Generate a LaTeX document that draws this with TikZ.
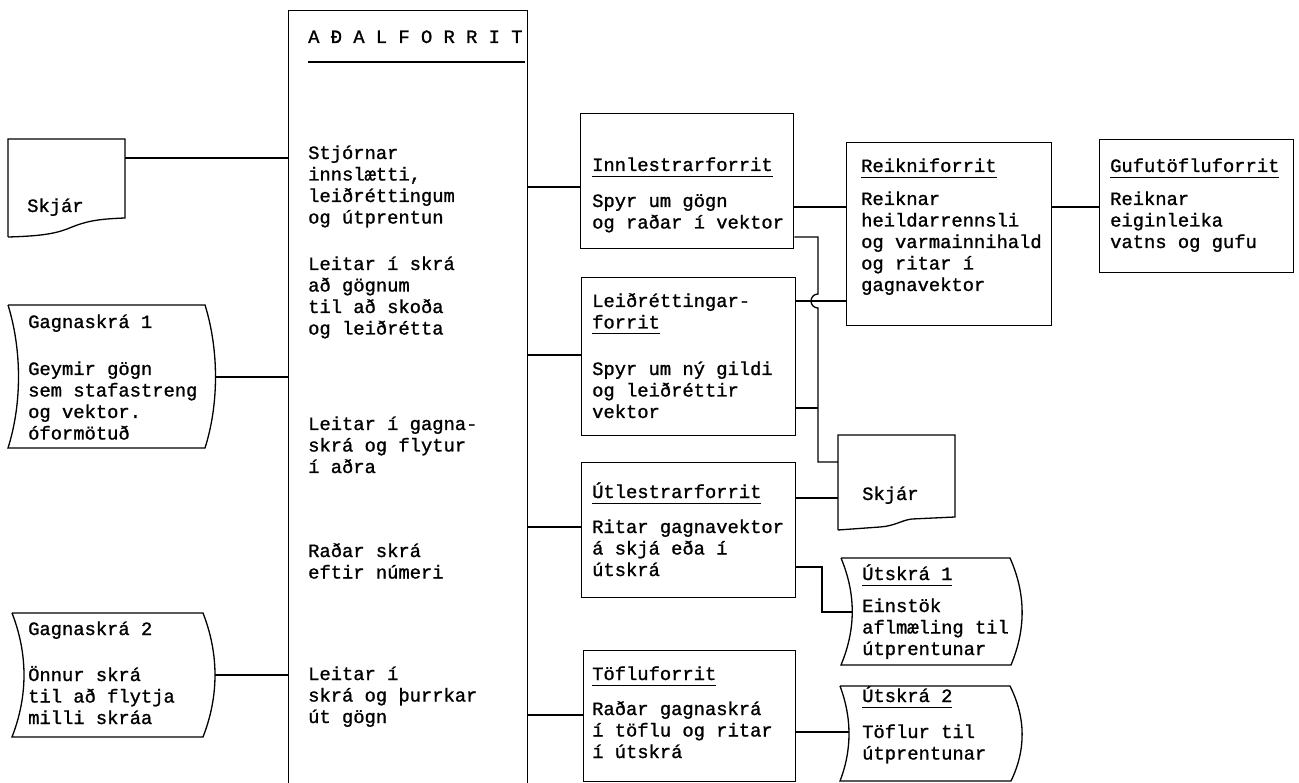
\documentclass[tikz,border=0pt]{standalone}
\usepackage{fontspec}
\setmainfont{Liberation Mono}[FakeBold=1.2]
\usetikzlibrary{calc}
\newcommand\blk[1]{\vtop{\halign{##\hfil\cr#1\crcr}}}
\newcommand\ulx[1]{\setbox0\hbox{#1}\rlap{\rule[-6pt]{\wd0}{1.1pt}}\box0}
\tikzset{
 ln/.style={line width=1.3pt, line join=miter},
 bx/.style={ln, draw, rectangle, anchor=north west, inner sep=0pt},
 hold/.style={rectangle, anchor=north west, inner sep=0pt},
 tx/.style={anchor=base west, inner sep=0pt, font=\fontsize{18.8pt}{21.5pt}\selectfont},
}
\begin{document}
\begin{tikzpicture}[x=1pt,y=-1pt]
\useasboundingbox (0,0) rectangle (1299,783);
\clip (0,0) rectangle (1299,783);

% main box
\node[bx, minimum width=239pt, minimum height=800pt] (main) at (288,10) {};
\draw[ln] (308,62) -- (525,62);
\node[tx] (m0) at (308,43) {A Ð A L F O R R I T};
\node[tx] (m1) at (308,159) {\blk{Stjórnar\cr innslætti,\cr leiðréttingum\cr og útprentun}};
\node[tx] (m2) at (308,270) {\blk{Leitar í skrá\cr að gögnum\cr til að skoða\cr og leiðrétta}};
\node[tx] (m3) at (308,430) {\blk{Leitar í gagna-\cr skrá og flytur\cr í aðra}};
\node[tx] (m4) at (308,557) {\blk{Raðar skrá\cr eftir númeri}};
\node[tx] (m5) at (308,680) {\blk{Leitar í\cr skrá og þurrkar\cr út gögn}};

% program boxes
\node[bx, minimum width=213pt, minimum height=135pt] (innl) at (580,113) {};
\node[tx] (innlT) at (592,171) {\ulx{Innlestrarforrit}};
\node[tx] (innlB) at (592,207) {\blk{Spyr um gögn\cr og raðar í vektor}};

\node[bx, minimum width=214pt, minimum height=158pt] (leidr) at (581,277) {};
\node[tx] (leidrT) at (592,307) {\blk{Leiðréttingar-\cr \ulx{forrit}}};
\node[tx] (leidrB) at (592,375) {\blk{Spyr um ný gildi\cr og leiðréttir\cr vektor}};

\node[bx, minimum width=214pt, minimum height=135pt] (utl) at (581,462) {};
\node[tx] (utlT) at (592,498) {\ulx{Útlestrarforrit}};
\node[tx] (utlB) at (592,533) {\blk{Ritar gagnavektor\cr á skjá eða í\cr útskrá}};

\node[bx, minimum width=212pt, minimum height=131pt] (tofl) at (583,650) {};
\node[tx] (toflT) at (592,680) {\ulx{Töfluforrit}};
\node[tx] (toflB) at (592,715) {\blk{Raðar gagnaskrá\cr í töflu og ritar\cr í útskrá}};

\node[bx, minimum width=205pt, minimum height=183pt] (reikni) at (846,142) {};
\node[tx] (reikniT) at (861,172) {\ulx{Reikniforrit}};
\node[tx] (reikniB) at (861,205) {\blk{Reiknar\cr heildarrennsli\cr og varmainnihald\cr og ritar í\cr gagnavektor}};

\node[bx, minimum width=194pt, minimum height=133pt] (gufu) at (1099,139) {};
\node[tx] (gufuT) at (1110,172) {\ulx{Gufutöfluforrit}};
\node[tx] (gufuB) at (1110,205) {\blk{Reiknar\cr eiginleika\cr vatns og gufu}};

% left screen
\node[hold, minimum width=117pt, minimum height=79pt] (skjarL) at (8,139) {};
\draw[ln] (8,237) -- (8,139) -- (125,139) -- (125,218) .. controls (95,219) and (85,222) .. (72,227) .. controls (58,233) and (45,236) .. (8,237);
\node[tx] (skjarLT) at (27,212) {Skjár};

% right screen
\node[hold, minimum width=117pt, minimum height=82pt] (skjarR) at (838,435) {};
\draw[ln] (838,530) -- (838,435) -- (955,435) -- (955,517) -- (912,519) .. controls (902,520) and (895,526) .. (880,527) -- (838,530);
\node[tx] (skjarRT) at (862,500) {Skjár};

% data files
\coordinate (g1e) at (215,377);
\draw[ln] (8,305) -- (205,305) .. controls (219,350) and (219,404) .. (205,448) -- (8,448) .. controls (22,404) and (22,350) .. (8,305);
\node[tx] (g1T) at (28,328) {Gagnaskrá 1};
\node[tx] (g1B) at (28,375) {\blk{Geymir gögn\cr sem stafastreng\cr og vektor.\cr óformötuð}};

\coordinate (g2e) at (215,675);
\draw[ln] (12,613) -- (203,613) .. controls (219,654) and (219,696) .. (203,737) -- (12,737) .. controls (28,696) and (28,654) .. (12,613);
\node[tx] (g2T) at (28,635) {Gagnaskrá 2};
\node[tx] (g2B) at (28,681) {\blk{Önnur skrá\cr til að flytja\cr milli skráa}};

\coordinate (ut1w) at (852,612);
\draw[ln] (841,558) -- (1010,558) .. controls (1026,594) and (1026,629) .. (1011,665) -- (841,665) .. controls (856,629) and (856,594) .. (841,558);
\node[tx] (ut1T) at (862,580) {\ulx{Útskrá 1}};
\node[tx] (ut1B) at (862,612) {\blk{Einstök\cr aflmæling til\cr útprentunar}};

\coordinate (ut2w) at (849,732);
\draw[ln] (840,686) -- (1010,686) .. controls (1026,718) and (1026,750) .. (1011,781) -- (840,781) .. controls (852,750) and (852,718) .. (840,686);
\node[tx] (ut2T) at (862,702) {\ulx{Útskrá 2}};
\node[tx] (ut2B) at (862,738) {\blk{Töflur til\cr útprentunar}};

% connectors
\draw[ln] (skjarL.east |- 0,158) -- (main.west |- 0,158);
\draw[ln] (g1e) -- (main.west |- g1e);
\draw[ln] (g2e) -- (main.west |- g2e);
\draw[ln] (main.east |- 0,187) -- (innl.west |- 0,187);
\draw[ln] (main.east |- 0,355) -- (leidr.west |- 0,355);
\draw[ln] (main.east |- 0,527) -- (utl.west |- 0,527);
\draw[ln] (main.east |- 0,715) -- (tofl.west |- 0,715);
\draw[ln] (innl.east |- 0,207) -- (reikni.west |- 0,207);
\draw[ln] (reikni.east |- 0,207) -- (gufu.west |- 0,207);
\draw[ln] (leidr.east |- 0,301) -- (reikni.west |- 0,301);
\coordinate (bus) at (818,237);
\draw[ln] (innl.east |- bus) -- (bus) -- (818,294) arc[start angle=90, end angle=270, radius=7pt] -- (818,462) -- (skjarR.west |- 0,462);
\draw[ln] (leidr.east |- 0,408) -- (bus |- 0,408);
\draw[ln] (utl.east |- 0,498) -- (skjarR.west |- 0,498);
\draw[ln] (utl.east |- 0,567) -- (822,567) -- (822,612) -- (ut1w);
\draw[ln] (tofl.east |- ut2w) -- (ut2w);
\end{tikzpicture}
\end{document}
